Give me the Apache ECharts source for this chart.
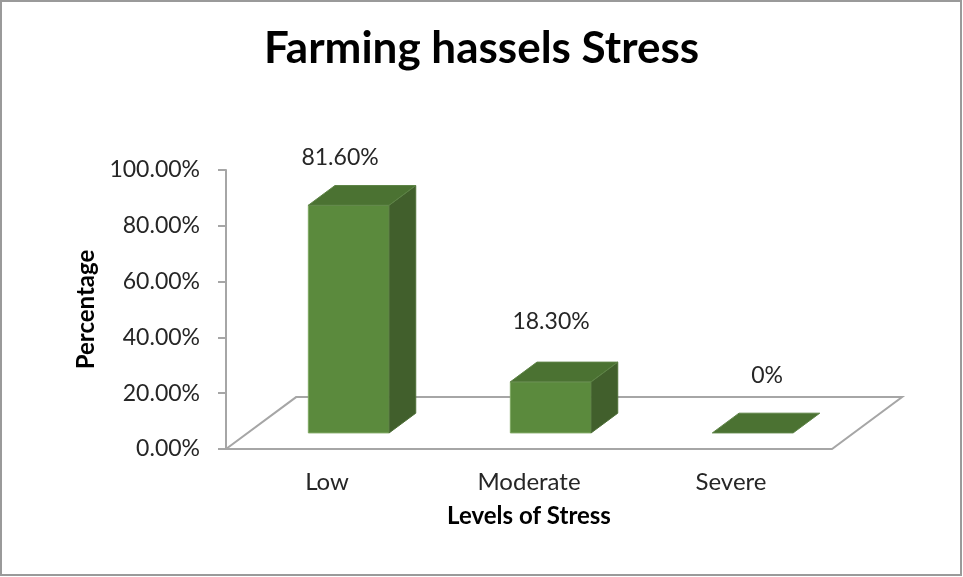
<!DOCTYPE html>
<html>
<head>
<meta charset="utf-8">
<script src="https://cdn.jsdelivr.net/npm/echarts@6/dist/echarts.min.js"></script>
<style>html,body{margin:0;padding:0;background:#fff;}#c{width:963px;height:577px;}</style>
</head>
<body>
<div id="c"></div>
<script>
// ---- data ----
const title = 'Farming hassels Stress';
const categories = ['Low', 'Moderate', 'Severe'];
const values = [81.6, 18.3, 0];
const valueLabels = ['81.60%', '18.30%', '0%'];
const yTicks = [0, 20, 40, 60, 80, 100];
const xName = 'Levels of Stress';
const yName = 'Percentage';

// ---- style (3D look) ----
const FONT = 'Lato, "Open Sans", sans-serif';
const DEPTH_X = 0.347;   // floor depth, as fraction of band width
const DEPTH_Y = -0.257;
const BAR_W = 0.40;      // bar width as fraction of band
const BAR_F0 = 0.31, BAR_F1 = 0.69; // bar depth position within floor
const LABEL_NUDGE = [[-22, -38], [-13, -50], [1, -47]];
const C_FRONT = '#5B8A3D', C_SIDE = '#415F2C', C_TOP = '#4B7232';

const chart = echarts.init(document.getElementById('c'));

function renderFloor(params, api) {
  const n = categories.length;
  const band = api.size([1, 0])[0];
  const p0 = api.coord([0, 0]);
  const pN = api.coord([n - 1, 0]);
  const L = p0[0] - band / 2, R = pN[0] + band / 2, y = p0[1];
  const dx = band * DEPTH_X, dy = band * DEPTH_Y;
  return {
    type: 'polygon',
    shape: { points: [[L, y], [L + dx, y + dy], [R + dx, y + dy], [R, y]] },
    style: { fill: '#fff', stroke: '#A6A6A6', lineWidth: 2 }
  };
}

function renderBar(params, api) {
  const i = api.value(0), v = api.value(1);
  const base = api.coord([i, 0]);
  const top = api.coord([i, v]);
  const band = api.size([1, 0])[0];
  const w = band * BAR_W;
  const Dx = band * DEPTH_X, Dy = band * DEPTH_Y;
  const fx = base[0] + Dx * BAR_F0;
  const fyB = base[1] + Dy * BAR_F0;
  const fyT = top[1] + Dy * BAR_F0;
  const bx = Dx * (BAR_F1 - BAR_F0), by = Dy * (BAR_F1 - BAR_F0);
  const L = fx - w / 2, R = fx + w / 2;
  const children = [];
  if (fyB - fyT > 0.5) {
    children.push({ type: 'polygon', shape: { points: [[L, fyT], [R, fyT], [R, fyB], [L, fyB]] },
      style: { fill: C_FRONT, stroke: '#7FA862', lineWidth: 1 } });
    children.push({ type: 'polygon', shape: { points: [[R, fyT], [R + bx, fyT + by], [R + bx, fyB + by], [R, fyB]] },
      style: { fill: C_SIDE, stroke: '#4F7038', lineWidth: 1 } });
  }
  children.push({ type: 'polygon', shape: { points: [[L, fyT], [L + bx, fyT + by], [R + bx, fyT + by], [R, fyT]] },
    style: { fill: C_TOP, stroke: '#5E8447', lineWidth: 1 } });
  // value label
  const cx = fx + bx / 2, cy = fyT + by / 2;
  const nudge = LABEL_NUDGE[params.dataIndex] || [0, -40];
  children.push({ type: 'text', style: {
    text: valueLabels[params.dataIndex], x: cx + nudge[0], y: cy + nudge[1],
    align: 'center', verticalAlign: 'middle', fill: '#262626', font: '23px ' + FONT } });
  return { type: 'group', children };
}

chart.setOption({
  animation: false,
  backgroundColor: '#fff',
  title: { text: title, left: 'center', top: 22,
    textStyle: { fontFamily: FONT, fontWeight: 'bold', fontSize: 44, color: '#000' } },
  graphic: [{ type: 'rect', shape: { x: 1, y: 1, width: 960, height: 574 },
    style: { fill: 'none', stroke: '#9A9A9A', lineWidth: 2 }, z: 100 }],
  grid: { left: 226, right: 131, top: 170, bottom: 128 },
  xAxis: {
    type: 'category', data: categories,
    axisLine: { show: false }, axisTick: { show: false },
    axisLabel: { margin: 21, fontFamily: FONT, fontSize: 24, color: '#262626' },
    name: xName, nameLocation: 'middle', nameGap: 55,
    nameTextStyle: { fontFamily: FONT, fontWeight: 'bold', fontSize: 24, color: '#000' }
  },
  yAxis: {
    type: 'value', min: yTicks[0], max: yTicks[yTicks.length - 1], interval: yTicks[1] - yTicks[0],
    axisLine: { show: true, lineStyle: { color: '#A6A6A6', width: 2 } },
    axisTick: { show: true, length: 8, lineStyle: { color: '#A6A6A6', width: 2 } },
    splitLine: { show: false },
    axisLabel: { margin: 26, fontFamily: FONT, fontSize: 23, color: '#262626',
      formatter: v => v.toFixed(2) + '%' },
    name: yName, nameLocation: 'middle', nameGap: 128,
    nameTextStyle: { fontFamily: FONT, fontWeight: 'bold', fontSize: 24, color: '#000' }
  },
  series: [
    { type: 'custom', renderItem: renderFloor, data: [[0, 0]], encode: { x: 0, y: 1 }, z: 1, silent: true },
    { type: 'custom', renderItem: renderBar, data: categories.map((c, i) => [i, values[i]]),
      encode: { x: 0, y: 1 }, z: 2 }
  ]
});
</script>
</body>
</html>
